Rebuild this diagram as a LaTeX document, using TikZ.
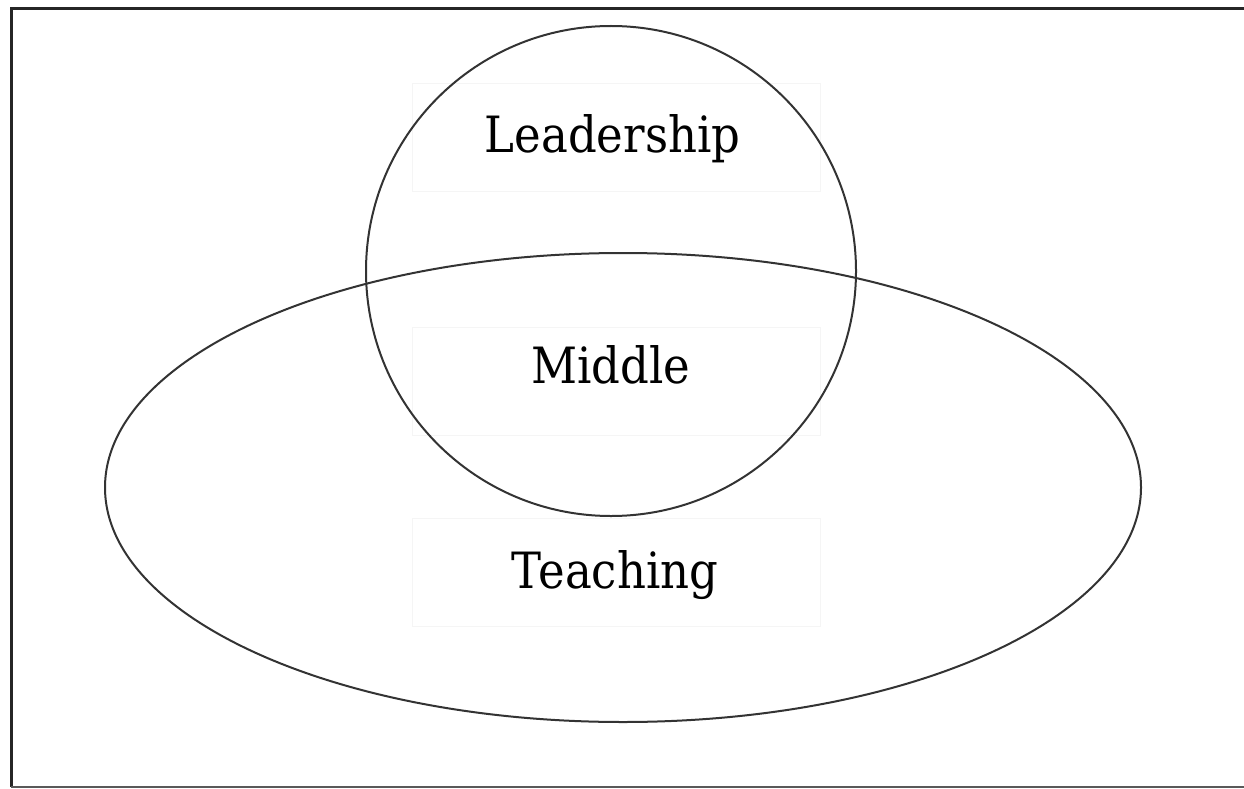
\documentclass[tikz,border=0pt]{standalone}
\usepackage{fontspec}
\setmainfont[FakeStretch=0.9]{DejaVu Serif}
\usepackage{tikz}

\begin{document}
\begin{tikzpicture}[
  x=1pt, y=-1pt,
  frameline/.style={line width=3pt, black!85},
  setline/.style={line width=2pt, black!80},
  textbox/.style={draw=black!4, line width=0.8pt, minimum width=408pt, minimum height=108pt, inner sep=0pt},
  word/.style={anchor=base, font=\fontsize{50}{50}\selectfont, inner sep=0pt}
]
\useasboundingbox (0,0) rectangle (1244,789);

% outer frame (open on the right)
\draw[frameline] (1244,9) -- (11,9) -- (11,787);
\draw[line width=2.5pt, black!65] (11,787) -- (1244,787);

% faint label boxes
\node[textbox] (leadbox) at (616,137) {};
\node[textbox] (midbox) at (616,381) {};
\node[textbox] (teachbox) at (616,572) {};

% the two sets
\draw[setline] (611,271) circle [radius=245];
\draw[setline] (623,487.5) ellipse [x radius=518, y radius=234.5];

% labels
\node[word] (lead) at (612.5,152) {Leadership};
\node[word] (mid) at (611,383) {Middle};
\node[word] (teach) at (615,588) {Teaching};
\end{tikzpicture}
\end{document}
